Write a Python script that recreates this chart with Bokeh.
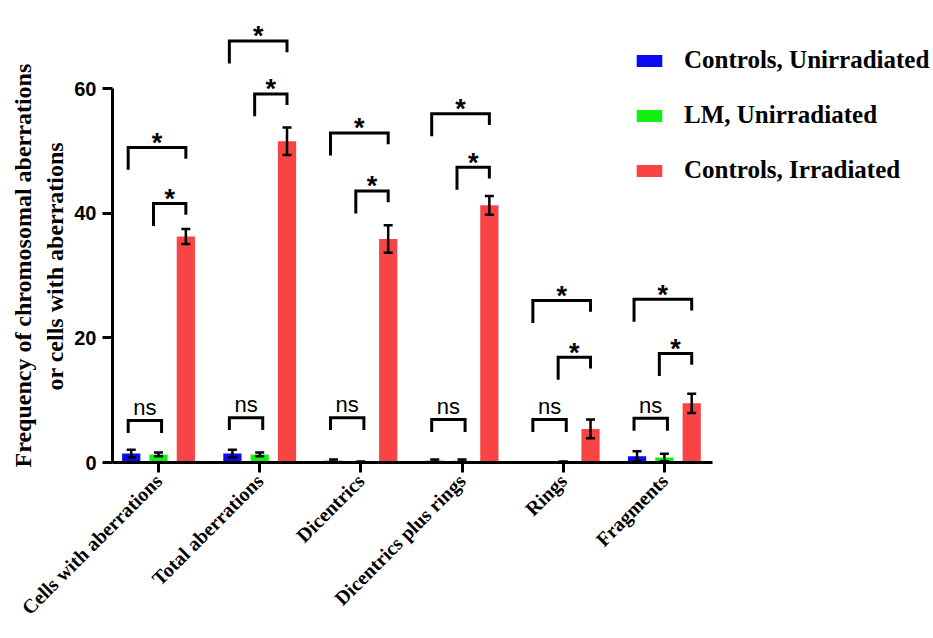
import math
from bokeh.plotting import figure
from bokeh.models import (ColumnDataSource, Range1d, FixedTicker, Whisker, TeeHead,
                          Legend, LegendItem, Title)
from bokeh.transform import dodge
from bokeh.core.properties import value
from bokeh.embed import file_html
from bokeh.resources import INLINE

# ---------------- data ----------------
categories = ["Cells with aberrations", "Total aberrations", "Dicentrics",
              "Dicentrics plus rings", "Rings", "Fragments"]
series_names = ["Controls, Unirradiated", "LM, Unirradiated", "Controls, Irradiated"]
y_title_lines = ["Frequency of chromosomal aberrations", "or cells with aberrations"]

ctrl_unirr = [1.45, 1.45, 0.3, 0.3, 0.0, 1.0]
ctrl_unirr_err = [0.6, 0.6, 0.2, 0.2, 0.0, 0.8]
lm_unirr = [1.3, 1.3, 0.0, 0.3, 0.0, 0.8]
lm_unirr_err = [0.3, 0.3, 0.15, 0.2, 0.15, 0.6]
ctrl_irr = [36.3, 51.6, 35.9, 41.3, 5.4, 9.5]
ctrl_irr_err = [1.2, 2.2, 2.2, 1.5, 1.5, 1.55]

# significance brackets (height of the horizontal bar, in data units)
outer_bracket = [50.6, 67.7, 52.9, 56.0, 26.0, 26.2]   # Controls unirr vs Controls irr
inner_bracket = [41.6, 59.2, 43.6, 47.4, 16.9, 17.5]   # LM unirr vs Controls irr
ns_bracket = [6.75, 7.2, 7.2, 6.9, 6.9, 7.1]           # Controls unirr vs LM unirr
outer_label = ["*"] * 6
inner_label = ["*"] * 6
ns_label = ["ns"] * 6

y_ticks = [0, 20, 40, 60]

# ---------------- style ----------------
colors = ["#0a0af5", "#12f012", "#f84444"]
offsets = [-0.27, 0.0, 0.27]
bar_w = 0.18
SERIF = "Liberation Serif"
SANS = "Liberation Sans"

xi = list(range(len(categories)))

p = figure(width=933, height=638,
           x_range=Range1d(-0.455, 7.66), y_range=Range1d(0, 74.2),
           output_backend="svg", toolbar_location=None,
           min_border_left=112, min_border_right=0, min_border_top=0,
           min_border_bottom=176)
p.grid.visible = False
p.outline_line_color = None
p.background_fill_color = "white"

series = [(ctrl_unirr, ctrl_unirr_err), (lm_unirr, lm_unirr_err), (ctrl_irr, ctrl_irr_err)]
bar_renderers = []
for (vals, errs), col, off in zip(series, colors, offsets):
    src = ColumnDataSource(dict(
        xi=xi, top=vals,
        upper=[v + e for v, e in zip(vals, errs)],
        lower=[v - e for v, e in zip(vals, errs)]))
    r = p.vbar(x=dodge("xi", off), top="top", bottom=0, width=bar_w, source=src,
               fill_color=col, line_color=None)
    bar_renderers.append(r)
    w = Whisker(source=src, base=dodge("xi", off), upper="upper", lower="lower",
                dimension="height", line_width=2.5, line_color="black", level="annotation",
                upper_head=TeeHead(size=9, line_width=2.5, line_color="black"),
                lower_head=TeeHead(size=9, line_width=2.5, line_color="black"))
    p.add_layout(w)

# brackets
xs, ys = [], []
sx, sy = [], []
nx, ny = [], []
for i in xi:
    x0, x1 = i + offsets[0] - 0.03, i + offsets[2]
    h = outer_bracket[i]
    xs.append([x0, x0, x1, x1]); ys.append([h - 3.6, h, h, h - 1.8])
    sx.append((x0 + x1) / 2); sy.append(h + 0.75)
    x0, x1 = i + offsets[1] - 0.05, i + offsets[2]
    h = inner_bracket[i]
    xs.append([x0, x0, x1, x1]); ys.append([h - 3.6, h, h, h - 1.8])
    sx.append((x0 + x1) / 2); sy.append(h + 0.75)
    x0, x1 = i + offsets[0] - 0.03, i + offsets[1] + 0.03
    h = ns_bracket[i]
    xs.append([x0, x0, x1, x1]); ys.append([h - 2.0, h, h, h - 2.0])
    nx.append((x0 + x1) / 2); ny.append(h + 2.1)

p.multi_line(xs=xs, ys=ys, line_color="black", line_width=3,
             line_join="miter", line_cap="butt")
p.text(x=sx, y=sy, text=[t for pair in zip(outer_label, inner_label) for t in pair],
       text_font=value(SANS), text_font_style="bold", text_font_size="27px",
       text_align="center", text_baseline="alphabetic", text_color="black")
p.text(x=nx, y=ny, text=ns_label,
       text_font=value(SANS), text_font_size="22px",
       text_align="center", text_baseline="alphabetic", text_color="black")

# axes
p.xaxis.ticker = FixedTicker(ticks=xi)
p.xaxis.major_label_overrides = {i: c for i, c in zip(xi, categories)}
p.xaxis.bounds = (-0.455, 5.48)
p.xaxis.major_label_orientation = math.pi / 4
p.xaxis.major_label_text_font = SERIF
p.xaxis.major_label_text_font_style = "bold"
p.xaxis.major_label_text_font_size = "20px"
p.xaxis.major_label_standoff = 5

p.yaxis.ticker = FixedTicker(ticks=y_ticks)
p.yaxis.bounds = (0, 60)
p.yaxis.major_label_text_font = SANS
p.yaxis.major_label_text_font_style = "bold"
p.yaxis.major_label_text_font_size = "20px"
p.yaxis.major_label_standoff = 6

for ax in (p.xaxis, p.yaxis):
    ax.axis_line_width = 3
    ax.axis_line_color = "black"
    ax.major_tick_line_width = 3
    ax.major_tick_line_color = "black"
    ax.major_tick_out = 10
    ax.major_tick_in = 0
    ax.minor_tick_line_color = None
    ax.major_label_text_color = "black"

# y-axis title: two centred lines, centred on the drawn 0-60 axis
# (inner line added first so that it sits next to the axis)
p.add_layout(Title(text=y_title_lines[1], align="left", offset=72, standoff=8,
                   text_font=SERIF, text_font_style="bold", text_font_size="24px",
                   text_color="black"), "left")
p.add_layout(Title(text=y_title_lines[0], align="left", offset=-5, standoff=0,
                   text_font=SERIF, text_font_style="bold", text_font_size="24px",
                   text_color="black"), "left")

legend = Legend(items=[LegendItem(label=n, renderers=[r]) for n, r in zip(series_names, bar_renderers)],
                location=(521, 278), orientation="vertical",
                border_line_color=None, background_fill_alpha=0,
                padding=0, margin=0, spacing=27,
                glyph_width=32, glyph_height=15, label_standoff=19,
                label_text_font=SERIF, label_text_font_style="bold",
                label_text_font_size="25px", label_text_color="black")
p.add_layout(legend)

open("out.html", "w").write(file_html(p, INLINE))
